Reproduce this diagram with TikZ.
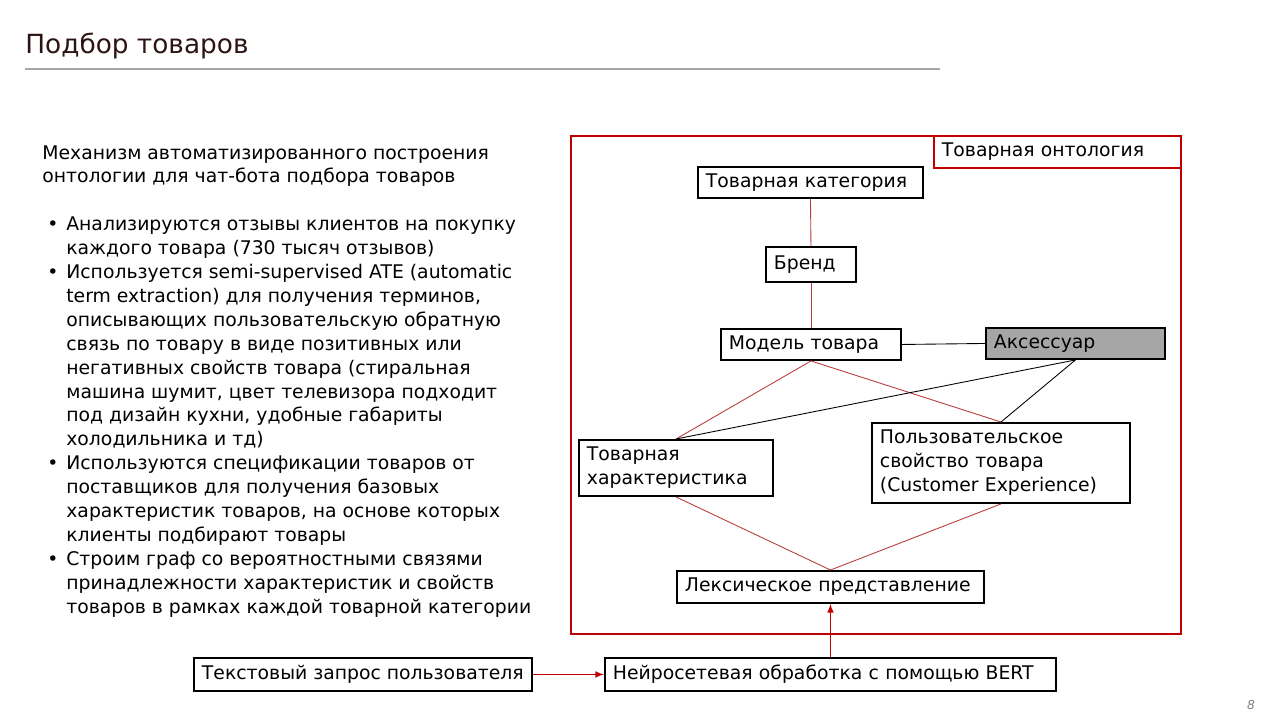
\documentclass[tikz,border=0pt]{standalone}
\usepackage{fontspec}
\setmainfont{DejaVu Sans}
\usetikzlibrary{arrows,positioning}
\definecolor{ontred}{RGB}{192,0,0}
\definecolor{linkred}{RGB}{185,60,60}
\definecolor{accgray}{RGB}{166,166,166}
\definecolor{titlebrown}{RGB}{45,20,20}
\newdimen\px \px=0.02cm
\newcommand{\bodyfont}{\fontsize{10.7}{13.6}\selectfont}
\newcommand{\bul}{\hspace*{5\px}\makebox[19\px][l]{•}}
\newcommand{\ind}{\hspace*{24\px}}
\tikzset{
  basic/.style   = {draw, line width=1.1pt, font=\bodyfont, align=left,
                    inner xsep=8\px, inner ysep=0pt, anchor=north west},
  concept/.style = {basic, fill=white},
  accessory/.style = {basic, fill=accgray},
  frame/.style   = {draw=ontred, line width=1.1pt, inner sep=0pt, anchor=north west},
  bodytext/.style = {font=\bodyfont, align=left, inner sep=0pt, anchor=north west},
  ontlink/.style = {draw=linkred, line width=0.5pt},
  acclink/.style = {draw=black, line width=0.5pt},
  flow/.style    = {draw=ontred, line width=0.7pt, ->}
}

\begin{document}
\begin{tikzpicture}[x=0.02cm, y=-0.02cm, >=latex]
\useasboundingbox (0,0) rectangle (1280,720);

% title
\node[anchor=base west, inner sep=0pt, text=titlebrown,
      font=\fontsize{15}{18}\selectfont] (title) at (25,53) {Подбор товаров};
\coordinate (rule w) at (25,69);
\coordinate (rule e) at (940,69);
\draw[gray!70, line width=0.6pt] (rule w) -- (rule e);

% left text
\node[bodytext] (intro) at (42,145) {Механизм автоматизированного построения\\
онтологии для чат-бота подбора товаров\\[13.6pt]
\bul Анализируются отзывы клиентов на покупку\\
\ind каждого товара (730 тысяч отзывов)\\
\bul Используется semi-supervised ATE (automatic\\
\ind term extraction) для получения терминов,\\
\ind описывающих пользовательскую обратную\\
\ind связь по товару в виде позитивных или\\
\ind негативных свойств товара (стиральная\\
\ind машина шумит, цвет телевизора подходит\\
\ind под дизайн кухни, удобные габариты\\
\ind холодильника и тд)\\
\bul Используются спецификации товаров от\\
\ind поставщиков для получения базовых\\
\ind характеристик товаров, на основе которых\\
\ind клиенты подбирают товары\\
\bul Строим граф со вероятностными связями\\
\ind принадлежности характеристик и свойств\\
\ind товаров в рамках каждой товарной категории};

% ontology frame
\node[frame, minimum width=610\px, minimum height=498\px] (onto) at (570,135) {};
\node[frame, anchor=north east, font=\bodyfont, align=left, inner xsep=8\px,
      text width=231\px, minimum height=32\px] (ontolabel) at (onto.north east) {Товарная онтология};

% concepts
\node[concept, text width=209\px, minimum height=31\px] (cat)   at (697,166) {Товарная категория};
\node[concept, text width=74\px,  minimum height=35\px] (brand) at (765,246) {Бренд};
\node[concept, text width=164\px, minimum height=31\px] (model) at (720,328) {Модель товара};
\node[accessory, text width=163\px, minimum height=31\px] (acc) at (985,327) {Аксессуар};
\node[concept, text width=178\px, minimum height=56\px] (char)  at (578,439) {Товарная\\характеристика};
\node[concept, text width=242\px, minimum height=80\px] (prop)  at (871,422) {Пользовательское\\свойство товара\\(Customer Experience)};
\node[concept, text width=291\px, minimum height=32\px] (lex)   at (676,570) {Лексическое представление};

% input pipeline
\node[concept, minimum width=337\px, minimum height=33\px] (query) at (193,657) {Текстовый запрос пользователя};
\node[concept, text width=435\px, minimum height=33\px] (bert)  at (604,657) {Нейросетевая обработка с помощью BERT};

% links
\draw[ontlink] (cat.south) -- (brand.north);
\draw[ontlink] (brand.south) -- (model.north);
\draw[ontlink] (model.south) -- (char.north);
\draw[ontlink] (model.south) -- (prop.north);
\draw[ontlink] (char.south) -- (lex.north);
\draw[ontlink] (prop.south) -- (lex.north);

\draw[acclink] (model.east) -- (acc.west);
\draw[acclink] (acc.south) -- (char.north);
\draw[acclink] (acc.south) -- (prop.north);

\draw[flow] (query.east) -- (bert.west);
\draw[flow] (bert.north) -- (lex.south);

% page number
\node[text=gray, font=\fontsize{7}{8}\selectfont\itshape] (pagenum) at (1251,705) {8};

\end{tikzpicture}
\end{document}
